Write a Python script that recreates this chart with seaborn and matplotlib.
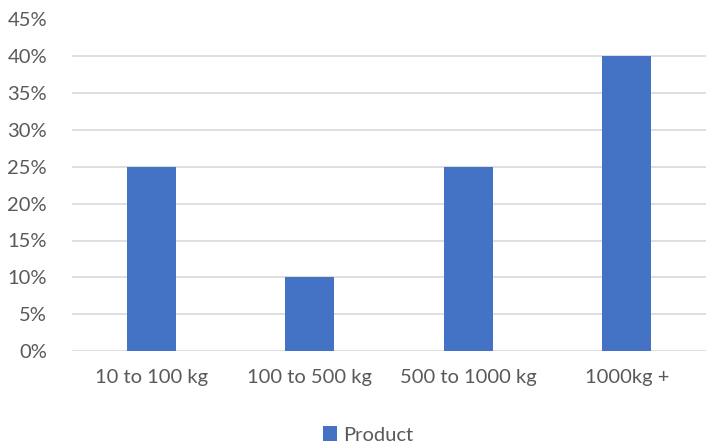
import matplotlib
matplotlib.use("Agg")
import matplotlib.pyplot as plt
import seaborn as sns
import pandas as pd
from matplotlib.patches import Patch
from matplotlib.ticker import PercentFormatter

categories = ["10 to 100 kg", "100 to 500 kg", "500 to 1000 kg", "1000kg +"]
values = [0.25, 0.10, 0.25, 0.40]
series_name = "Product"
yticks = [0, 0.05, 0.10, 0.15, 0.20, 0.25, 0.30, 0.35, 0.40, 0.45]

df = pd.DataFrame({"cat": categories, "val": values})

sns.set_style("white")
plt.rcParams["font.family"] = ["Lato", "DejaVu Sans"]

bar_color = "#4472C4"
text_color = "#595959"

fig = plt.figure(figsize=(7.07, 4.47), dpi=100)
ax = fig.add_axes([72/707, 1 - 351/447, (706-72)/707, (351-19.5)/447])

sns.barplot(data=df, x="cat", y="val", color=bar_color, width=0.31,
            saturation=1, ax=ax, zorder=3, edgecolor="none")

ax.set_ylim(0, 0.45)
ax.set_yticks(yticks)
ax.yaxis.set_major_formatter(PercentFormatter(1.0, decimals=0))
ax.grid(axis="y", color="#d9d9d9", linewidth=1.2, zorder=0)
ax.set_axisbelow(True)
for s in ax.spines.values():
    s.set_visible(False)
ax.set_xlabel("")
ax.set_ylabel("")
ax.tick_params(axis="both", length=0, labelsize=14.5, colors=text_color)
ax.tick_params(axis="y", pad=18)
ax.tick_params(axis="x", pad=13)

handles = [Patch(facecolor=bar_color, edgecolor="none", label=series_name)]
fig.legend(handles=handles, loc="center", bbox_to_anchor=(368/707, 1 - 435/447),
           frameon=False, fontsize=14.5, labelcolor=text_color,
           handlelength=0.7, handleheight=0.7, handletextpad=0.3)

fig.savefig("out.png", dpi=100)
